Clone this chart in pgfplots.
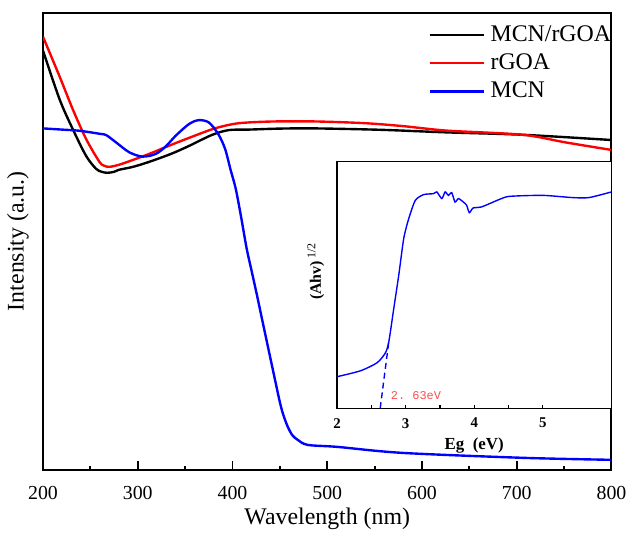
\documentclass[border=0pt]{standalone}
\usepackage{fontspec}
\setmainfont{Liberation Serif}
\newfontfamily\monofont{Liberation Mono}
\usepackage{pgfplots}
\pgfplotsset{compat=1.18}

\begin{document}
\begin{tikzpicture}
\begin{axis}[
	at={(0,0)}, anchor=south west,
	scale only axis,
	width=286.2pt, height=230.15pt,
	xmin=200, xmax=800, ymin=0, ymax=460.3,
	xtick={200,300,...,800}, minor x tick num=1, ytick=\empty,
	xtick pos=bottom, tick align=inside,
	major tick length=4.2pt, minor tick length=2pt,
	tick style={black, line width=0.9pt},
	axis line style={line width=1pt},
	/pgf/number format/assume math mode=true,
	xticklabel style={font=\fontsize{10}{12}\selectfont, yshift=-5pt},
	xlabel={Wavelength (nm)},
	ylabel={Intensity (a.u.)},
	xlabel style={font=\fontsize{12}{14}\selectfont, at={(axis description cs:0.5,0)}, anchor=north, yshift=-15.5pt},
	ylabel style={font=\fontsize{12}{14}\selectfont, at={([xshift=-3.6pt]axis description cs:0,0.5)}, anchor=south, rotate=0},
	legend style={draw=none, fill=none, at={(1,1)}, anchor=north east, yshift=-4pt, xshift=2.5pt,
		inner sep=0pt, font=\fontsize{12}{14}\selectfont,
		nodes={inner xsep=2.5pt, inner ysep=1.6pt, text height=8.5pt, text depth=2.5pt}},
	legend cell align=left,
	legend image code/.code={\draw[#1] (0pt,0pt) -- (27.6pt,0pt);},
]
% MCN/rGOA
\addplot[black, line width=1.2pt, smooth, tension=0.5] coordinates {
	(200,422) (217.5,373) (231.4,343) (245.5,316) (256,303) (262,300) (268,299)
	(275,300) (280,302) (295,305) (312,310) (335,318) (354,326) (378,337)
	(396,342) (417,342.5) (450,343.5) (487,343.7) (556,342.3) (626,339.7)
	(706,337.3) (800,332)
};
\addlegendentry{MCN/rGOA}
% rGOA
\addplot[red, line width=1.2pt, smooth, tension=0.5] coordinates {
	(200,436) (217.5,396) (231.4,363) (245.5,333) (259.6,310) (265,306) (270,305)
	(280,307) (295,312) (312,318) (335,327) (351,333) (379,343) (400,348)
	(417,349.7) (445,350.7) (487,350.7) (539,349) (580,346) (626,341.5)
	(706,337.3) (751,329.7) (800,322)
};
\addlegendentry{rGOA}
% MCN
\addplot[blue, line width=1.2pt, smooth, tension=0.5] coordinates {
	(200,343.7) (220,342.5) (238.8,341.3) (259.6,338.3) (266.6,337) (277,329.7)
	(291,319.7) (305,315.3) (319,318) (330,326) (340,336.3) (354,348) (364.3,352)
	(375,349.7) (385,338) (392.2,323) (398,302) (403.4,283) (409,255) (414.9,223)
	(420,201) (426,175) (432,148) (437.6,123) (445,90) (450,68) (453.4,56)
	(458,44) (463,35) (469,30) (479.5,25) (511,23) (579,17) (707,12) (800,10)
};
\addlegendentry{MCN}
\end{axis}

\begin{axis}[
	at={(148pt,31pt)}, anchor=south west,
	scale only axis,
	width=138.2pt, height=124.15pt,
	xmin=2, xmax=6, ymin=0, ymax=1,
	xtick={2,3,4,5}, minor x tick num=1, ytick=\empty,
	xtick pos=bottom, tick align=inside,
	major tick length=1.5pt, minor tick length=1.5pt,
	tick style={black, line width=0.6pt},
	axis line style={line width=0.6pt},
	axis background/.style={fill=white},
	/pgf/number format/assume math mode=true,
	xticklabel style={font=\bfseries\fontsize{7.5}{9}\selectfont, yshift=-1.5pt},
	xlabel={Eg\ \ (eV)},
	xlabel style={font=\bfseries\fontsize{8.5}{10}\selectfont, at={(axis description cs:0.5,0)}, anchor=north, yshift=-11.5pt},
	ylabel={(Ahv)\,\textsuperscript{\mdseries 1/2}},
	ylabel style={font=\bfseries\fontsize{8}{10}\selectfont, at={([xshift=-10.6pt]axis description cs:0,0.556)}, anchor=center},
]
\addplot[blue, line width=0.7pt, smooth, tension=0.4] coordinates {
	(2.0,0.1275) (2.347,0.152) (2.588,0.185) (2.708,0.2255) (2.757,0.272)
	(2.829,0.407) (2.901,0.541) (2.973,0.689) (3.046,0.769) (3.142,0.843)
	(3.263,0.866) (3.407,0.870) (3.455,0.877) (3.528,0.850) (3.576,0.877)
	(3.624,0.863) (3.672,0.874) (3.720,0.836) (3.769,0.850) (3.841,0.836)
	(3.889,0.823) (3.928,0.793) (3.986,0.812) (4.106,0.816) (4.371,0.847)
	(4.516,0.859) (4.998,0.863) (5.431,0.854) (5.672,0.854) (6.0,0.877)
};
\addplot[blue, line width=0.7pt, dash pattern=on 3pt off 2pt] coordinates {
	(2.63,0) (2.76,0.28)
};
\node[anchor=west, inner sep=0pt, text=red!70, font=\monofont\fontsize{6}{7}\selectfont]
	at (axis cs:2.78,0.052) {2.\ 63eV};
\end{axis}

\path (-21.65pt,-29.5pt) rectangle (294.85pt,236.5pt);
\end{tikzpicture}
\end{document}
